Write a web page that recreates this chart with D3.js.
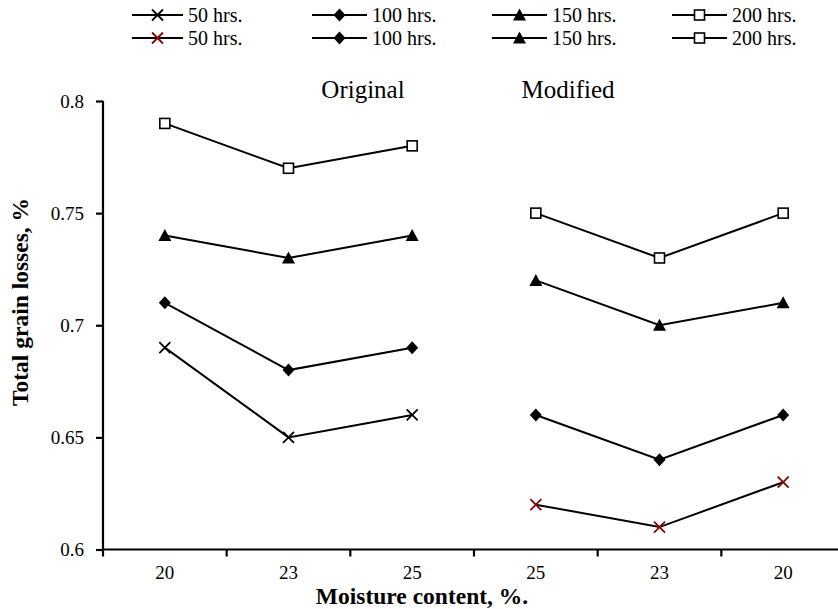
<!DOCTYPE html>
<html lang="en">
<head>
<meta charset="utf-8">
<title>Total grain losses</title>
<script src="https://d3js.org/d3.v7.min.js"></script>
<style>
	body { margin: 0; background: #fff; }
</style>
</head>
<body>
<div id="chart"></div>
<script>
// categories along the x axis (left group: Original, right group: Modified)
let categories = ["20", "23", "25", "25", "23", "20"];
let series = ["50 hrs.", "100 hrs.", "150 hrs.", "200 hrs."];
let symbols = ["cross", "diamond", "triangle", "square"];
// values per series, first three = Original, last three = Modified
let original = [
	[0.69, 0.65, 0.66],
	[0.71, 0.68, 0.69],
	[0.74, 0.73, 0.74],
	[0.79, 0.77, 0.78]
];
let modified = [
	[0.62, 0.61, 0.63],
	[0.66, 0.64, 0.66],
	[0.72, 0.70, 0.71],
	[0.75, 0.73, 0.75]
];
let yTicks = [0.6, 0.65, 0.7, 0.75, 0.8];

let width = 838, height = 609;
let plotLeft = 103, plotRight = 845, plotTop = 101, plotBottom = 549.5;
let serif = "'Liberation Serif', 'Times New Roman', 'DejaVu Serif', serif";

let svg = d3.select("#chart").append("svg")
	.attr("width", width)
	.attr("height", height)
	.attr("font-family", serif);

let x = d3.scaleBand()
	.domain(d3.range(categories.length))
	.range([plotLeft, plotRight]);
let y = d3.scaleLinear()
	.domain([0.6, 0.8])
	.range([plotBottom, plotTop]);

// y axis
let yAxis = svg.append("g")
	.attr("transform", `translate(${plotLeft},0)`)
	.call(d3.axisLeft(y).tickValues(yTicks).tickSize(7).tickFormat(d => String(+d.toFixed(2))));
yAxis.attr("font-family", serif);
yAxis.select(".domain").attr("stroke-width", 2.2).attr("d", `M0,${plotTop}V${plotBottom}`);
yAxis.selectAll(".tick line").attr("stroke-width", 2.2);
yAxis.selectAll(".tick text").attr("font-size", 19).attr("x", -19).attr("fill", "#000");

// x axis: labels at centres, ticks at category boundaries
let xAxis = svg.append("g")
	.attr("transform", `translate(0,${plotBottom})`)
	.call(d3.axisBottom(x).tickSize(0).tickFormat(i => categories[i]));
xAxis.attr("font-family", serif);
xAxis.select(".domain").attr("stroke-width", 2.2).attr("d", `M${plotLeft},0H${plotRight}`);
xAxis.selectAll(".tick text").attr("font-size", 19).attr("y", 16).attr("fill", "#000");
xAxis.selectAll("line.bound")
	.data(d3.range(categories.length))
	.enter().append("line")
	.attr("class", "bound")
	.attr("x1", i => x(i)).attr("x2", i => x(i))
	.attr("y1", 0).attr("y2", 7)
	.attr("stroke", "#000").attr("stroke-width", 2.2);

// axis titles
svg.append("text")
	.attr("x", 422).attr("y", 604)
	.attr("text-anchor", "middle")
	.attr("font-size", 23.5).attr("font-weight", "bold")
	.text("Moisture content, %.");
svg.append("text")
	.attr("transform", `translate(28,302) rotate(-90)`)
	.attr("text-anchor", "middle")
	.attr("font-size", 23.5).attr("font-weight", "bold")
	.text("Total grain losses, %");

// group labels
svg.append("text").attr("x", 363).attr("y", 98)
	.attr("text-anchor", "middle").attr("font-size", 25).text("Original");
svg.append("text").attr("x", 568).attr("y", 98)
	.attr("text-anchor", "middle").attr("font-size", 25).text("Modified");

// marker drawing
function drawMarker(g, type, color) {
	if (type === "cross") {
		g.append("path").attr("d", "M-5.5,-5.5L5.5,5.5M-5.5,5.5L5.5,-5.5")
			.attr("stroke", color).attr("stroke-width", 1.8).attr("fill", "none");
	} else if (type === "diamond") {
		g.append("path").attr("d", "M0,-6.5L6,0L0,6.5L-6,0Z").attr("fill", "#000");
	} else if (type === "triangle") {
		g.append("path").attr("d", "M0,-6.5L6.5,5.5L-6.5,5.5Z").attr("fill", "#000");
	} else {
		g.append("rect").attr("x", -5).attr("y", -5).attr("width", 10).attr("height", 10)
			.attr("fill", "#fff").attr("stroke", "#000").attr("stroke-width", 1.6);
	}
}

let line = d3.line()
	.x(d => x(d.i) + x.bandwidth() / 2)
	.y(d => y(d.v));

function drawGroup(data, offset, crossColor) {
	data.forEach((vals, s) => {
		let pts = vals.map((v, k) => ({ i: k + offset, v: v }));
		svg.append("path").datum(pts)
			.attr("fill", "none").attr("stroke", "#000").attr("stroke-width", 2)
			.attr("d", line);
		pts.forEach(p => {
			let g = svg.append("g")
				.attr("transform", `translate(${x(p.i) + x.bandwidth() / 2},${y(p.v)})`);
			drawMarker(g, symbols[s], s === 0 ? crossColor : "#000");
		});
	});
}
drawGroup(original, 0, "#000");
drawGroup(modified, 3, "#8b0000");

// legend: two rows
let legendX = [132, 312, 492, 672];
[["#000", 15], ["#8b0000", 38]].forEach(([c, ly]) => {
	series.forEach((name, s) => {
		let lx = legendX[s];
		let w = s === 0 ? 51 : 55;
		svg.append("line").attr("x1", lx).attr("x2", lx + w)
			.attr("y1", ly).attr("y2", ly)
			.attr("stroke", "#000").attr("stroke-width", 2.2);
		let g = svg.append("g").attr("transform", `translate(${lx + w / 2},${ly})`);
		drawMarker(g, symbols[s], s === 0 ? c : "#000");
		svg.append("text").attr("x", lx + w + 5).attr("y", ly + 7)
			.attr("font-size", 20).text(name);
	});
});
</script>
</body>
</html>
